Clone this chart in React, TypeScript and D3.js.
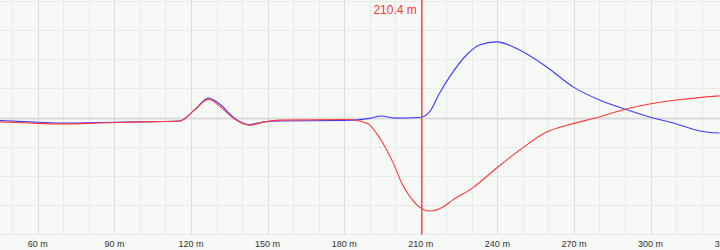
import React from "react";
import * as d3 from "d3";

const W = 720;
const H = 250;

// distance (m)
const blueDist = [45.0, 56.8, 68.5, 84.2, 99.9, 115.5, 121.4, 126.9, 131.2, 137.0, 142.9, 148.8, 154.7, 180.1, 190.0, 194.6, 199.7, 209.5, 213.4, 217.4, 221.3, 227.9, 233.0, 239.7, 248.7, 259.3, 269.8, 280.0, 289.8, 299.6, 310.2, 319.2, 327.0];
const blueVals = [-0.10, -0.15, -0.19, -0.17, -0.15, -0.12, 0.26, 0.67, 0.46, -0.02, -0.24, -0.15, -0.12, -0.10, -0.03, 0.05, -0.02, 0.0, 0.19, 0.84, 1.39, 2.14, 2.48, 2.59, 2.31, 1.73, 1.04, 0.60, 0.29, 0.02, -0.22, -0.46, -0.53];

const redDist = [45.0, 56.8, 68.5, 84.2, 99.9, 115.5, 121.4, 126.9, 131.2, 137.0, 142.9, 148.8, 154.7, 180.1, 186.0, 190.0, 193.9, 199.0, 202.9, 206.8, 209.5, 213.4, 218.5, 222.4, 230.3, 239.7, 249.9, 259.3, 267.5, 280.0, 289.0, 299.6, 310.2, 327.0];
const redVals = [-0.15, -0.19, -0.22, -0.19, -0.15, -0.12, 0.26, 0.63, 0.39, -0.05, -0.26, -0.15, -0.09, -0.07, -0.12, -0.26, -0.70, -1.52, -2.31, -2.83, -3.07, -3.20, -3.07, -2.83, -2.41, -1.73, -1.04, -0.50, -0.26, 0.02, 0.26, 0.46, 0.60, 0.74];

const xTicks = [60, 90, 120, 150, 180, 210, 240, 270, 300, 330];
const xMinorTicks = d3.range(50, 331, 10);
const yTicks = [-4, -3, -2, -1, 0, 1, 2, 3, 4];
const cursorValue = 210.4;

export default function App() {
  const x = d3.scaleLinear().domain([45.2, 327.2]).range([0, W]);
  const y = d3.scaleLinear().domain([-4, 4]).range([234.3, 0.7]);
  const plotBottom = 234.5;

  const line = d3
    .line<[number, number]>()
    .x((d) => x(d[0]))
    .y((d) => y(d[1]))
    .curve(d3.curveMonotoneX);

  const blue = line(blueDist.map((d, i) => [d, blueVals[i]]) as [number, number][]) || "";
  const red = line(redDist.map((d, i) => [d, redVals[i]]) as [number, number][]) || "";
  const cx = x(cursorValue);

  return (
    <svg
      width={W}
      height={H}
      style={{ position: "absolute", left: 0, top: 0, display: "block" }}
      fontFamily="Arial, 'Liberation Sans', sans-serif"
    >
      <rect x={0} y={0} width={W} height={H} fill="#f6f9f6" />
      {xMinorTicks.map((t) => (
        <line
          key={"v" + t}
          x1={Math.round(x(t)) + 0.5}
          x2={Math.round(x(t)) + 0.5}
          y1={0}
          y2={plotBottom}
          stroke={t % 30 === 0 ? "#dcdcdc" : "#e9ebe9"}
          strokeWidth={1}
        />
      ))}
      {yTicks.map((t) => (
        <line
          key={"h" + t}
          x1={0}
          x2={W}
          y1={Math.round(y(t)) + 0.5}
          y2={Math.round(y(t)) + 0.5}
          stroke={t === 0 ? "#dadada" : "#e9ebe9"}
          strokeWidth={t === 0 ? 2 : 1}
        />
      ))}
      <path d={blue} fill="none" stroke="#3b3bff" strokeWidth={1.1} />
      <path d={red} fill="none" stroke="#ff3838" strokeWidth={1.1} />
      <line x1={cx} x2={cx} y1={0} y2={plotBottom} stroke="#ff4444" strokeWidth={1.5} />
      <text x={cx - 5} y={13.5} textAnchor="end" fontSize={12} fill="#ff3333">
        {cursorValue} m
      </text>
      {xTicks.map((t) => (
        <text key={"l" + t} x={x(t)} y={247} textAnchor="middle" fontSize={9} fill="#333">
          {t} m
        </text>
      ))}
    </svg>
  );
}
